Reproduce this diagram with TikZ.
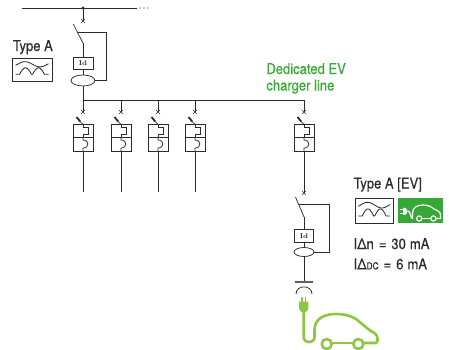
\documentclass[tikz,border=0pt]{standalone}
\usepackage{fontspec}
\newfontfamily\cond{TeX Gyre Heros}[FakeBold=0.4,FakeStretch=0.88]
\usetikzlibrary{shapes.geometric}
\definecolor{txtgreen}{HTML}{3AAA35}
\definecolor{boxgreen}{HTML}{37A838}
\definecolor{cargreen}{HTML}{8DC63F}
\definecolor{ink}{HTML}{2B2B2B}
\begin{document}
\begin{tikzpicture}[x=1pt,y=-1pt,color=ink,line width=0.75pt,
  lbl/.style={font=\cond\fontsize{14.8}{16}\selectfont, anchor=base west, inner sep=0pt, text=ink},
  grnlbl/.style={lbl, text=txtgreen},
  idbox/.style={draw, fill=white, inner sep=0pt, minimum width=20pt, minimum height=12pt, font=\fontsize{7}{7}\selectfont\bfseries},
  torus/.style={draw, ellipse, fill=white, inner sep=0pt, minimum width=24pt, minimum height=11pt},
  xmark/.pic={\draw[line width=0.6pt] (-2,-2)--(2,2) (-2,2)--(2,-2);},
  breaker/.pic={
    \draw[line width=0.6pt] (-2,-2)--(2,2) (-2,2)--(2,-2);
    \draw[line width=1.8pt] (-6.5,5)--(-2.8,9.5);
    \draw (-2.8,9.5)--(0,12.5);
    \draw (-10,12) rectangle (10,39);
    \draw (-10,25)--(10,25);
    \draw (0,12)--(0,15)--(5,15)--(5,22.5)--(0,22.5)--(0,25);
    \draw (0,25)--(0,28) .. controls (6.5,28) and (6.5,36) .. (0,36) -- (0,39);
  },
  wave/.pic={
    \draw[line width=0.9pt] (0,0) rectangle (40,23);
    \draw[line width=0.85pt, domain=3.5:36.5, samples=40, smooth] plot (\x, {6.3 - 2.6*sin(360*(\x-5.5)/30)});
    \draw[line width=0.85pt] (3.5,16.3) -- (7.5,16.3)
      -- plot[domain=7.5:19.5, samples=25, smooth] (\x, {16.3 - 6.5*sin(180*(\x-7.5)/12)})
      -- (20.5,16.3)
      -- plot[domain=20.5:32.5, samples=25, smooth] (\x, {16.3 - 6.5*sin(180*(\x-20.5)/12)})
      -- (36.5,16.3);
  }]
\useasboundingbox (0,0) rectangle (449,349);

% top bus
\coordinate (busL) at (22,8);
\coordinate (busR) at (137,8);
\coordinate (J) at (83,8);
\draw (busL) -- (busR);
\foreach \d in {140,144,148} \fill (\d,8) circle (0.6);
\fill (J) circle (1.6);

% main RCD (Type A)
\coordinate (x0) at (83,21);
\draw (J) -- (x0);
\pic at (x0) {xmark};
\coordinate (bl0t) at (73.3,24);
\coordinate (bl0b) at (83,43.3);
\draw (bl0t) -- (bl0b);
\node[idbox] (id0) at (83,63) {Id};
\node[torus] (t0) at (83,80.5) {};
\coordinate (J1) at (83,100);
\draw (bl0b) -- (id0.north);
\draw (id0.south) -- (t0.north);
\draw (t0.south) -- (J1);
\coordinate (r0a) at (77.5,32.3);
\coordinate (r0b) at (106,32.3);
\coordinate (r0c) at (106,80.5);
\draw (r0a) -- (r0b) -- (r0c) -- (t0.east);

% sub bus and branches
\coordinate (JE) at (304,100);
\draw (J1) -- (JE);
\foreach \i/\xx in {1/83,2/121,3/158,4/195,5/304}{
  \coordinate (c\i) at (\xx,112);
  \draw (\xx,100) -- (c\i);
  \pic at (c\i) {breaker};
}
\foreach \i/\xx in {1/83,2/121,3/158,4/195}{
  \coordinate (e\i) at (\xx,192);
  \draw (\xx,151) -- (e\i);
}

% EV RCD
\coordinate (xE) at (304,193);
\draw (304,151) -- (xE);
\pic at (xE) {xmark};
\coordinate (blEt) at (295.5,197);
\coordinate (blEb) at (304,217);
\draw (blEt) -- (blEb);
\node[idbox, minimum width=19pt, minimum height=12.5pt] (idE) at (304,235.75) {Id};
\node[torus, minimum width=20pt, minimum height=9pt] (tE) at (304,252) {};
\coordinate (sock) at (304,282);
\draw (blEb) -- (idE.north);
\draw (idE.south) -- (tE.north);
\draw (tE.south) -- (sock);
\coordinate (rEa) at (298.5,204);
\coordinate (rEb) at (329,204);
\coordinate (rEc) at (329,252);
\draw (rEa) -- (rEb) -- (rEc) -- (tE.east);
\draw[line width=1.3pt, color=ink!75] (295,282) -- (313,282);
\draw (296,294) .. controls (296,284.5) and (312,284.5) .. (312,294);

% green car with plug
\begin{scope}[color=cargreen, line cap=round, line join=round]
  \draw[line width=1.6pt] (301.8,297.5)--(301.8,302) (305.6,297.5)--(305.6,302);
  \fill (299,301.5) -- (308.4,301.5) -- (308.4,307) .. controls (308.4,310.5) and (306,312) .. (304.7,312.5) -- (302.7,312.5) .. controls (301.4,312) and (299,310.5) .. (299,307) -- cycle;
  \draw[line width=2.6pt] (303.7,312) -- (303.7,337) .. controls (303.7,344) and (314.5,344) .. (314.5,337) -- (314.5,330)
     .. controls (314.5,318) and (325,314) .. (336,314) .. controls (345,314) and (351,316) .. (356,319)
     -- (370,330.5) .. controls (376,333) and (377.5,336) .. (377.5,339) -- (377.5,340.5)
     .. controls (377.5,342) and (376.5,343) .. (375,343) -- (363.5,343);
  \draw[line width=2.6pt] (331.8,343) -- (353.2,343);
  \draw[line width=2.6pt] (326.7,344) circle (5);
  \draw[line width=2.6pt] (358.3,344) circle (5);
\end{scope}

% labels
\node[lbl] (tA) at (12.5,51) {Type A};
\pic at (12,58) {wave};
\node[grnlbl] (ded1) at (266,74) {Dedicated EV};
\node[grnlbl] (ded2) at (266,90.5) {charger line};
\node[lbl] (tEV) at (353.3,188.5) {Type A [EV]};
\pic[xscale=0.96, yscale=1.087] at (355,198.3) {wave};
\node[lbl] (i1) at (353.3,249) {IΔn\hspace{5pt}=\hspace{5pt}30\hspace{4pt}mA};
\node[lbl] (i2) at (353.3,269.3) {IΔ{\fontsize{9.5}{9}\selectfont DC}\hspace{5pt}=\hspace{5pt}6\hspace{4pt}mA};

% EV icon
\fill[boxgreen] (398.3,198.3) rectangle (443.3,223.3);
\begin{scope}[color=white, line width=1.2pt, line cap=round, line join=round]
  \draw (400.5,209.3)--(403,209.3) (400.5,213.3)--(403,213.3);
  \fill (403,207.8) -- (405.3,207.8) .. controls (407.5,207.8) and (407.5,214.8) .. (405.3,214.8) -- (403,214.8) -- cycle;
  \draw (406.5,211.3) -- (408.5,211.3) .. controls (410.5,211.3) and (410.5,218.5) .. (412.5,218.5);
  \draw (412.5,218.5) -- (412.5,213.5) .. controls (412.5,207.5) and (417,205) .. (423,205)
     .. controls (428,205) and (431,206.5) .. (434,209) .. controls (437.5,210.3) and (440.5,212) .. (440.5,215)
     -- (440.5,218.5) -- (436,218.5);
  \draw (430.8,218.5) -- (421.8,218.5);
  \draw[fill=boxgreen] (419.2,218.5) circle (2.6);
  \draw[fill=boxgreen] (433.4,218.5) circle (2.6);
\end{scope}
\end{tikzpicture}
\end{document}
